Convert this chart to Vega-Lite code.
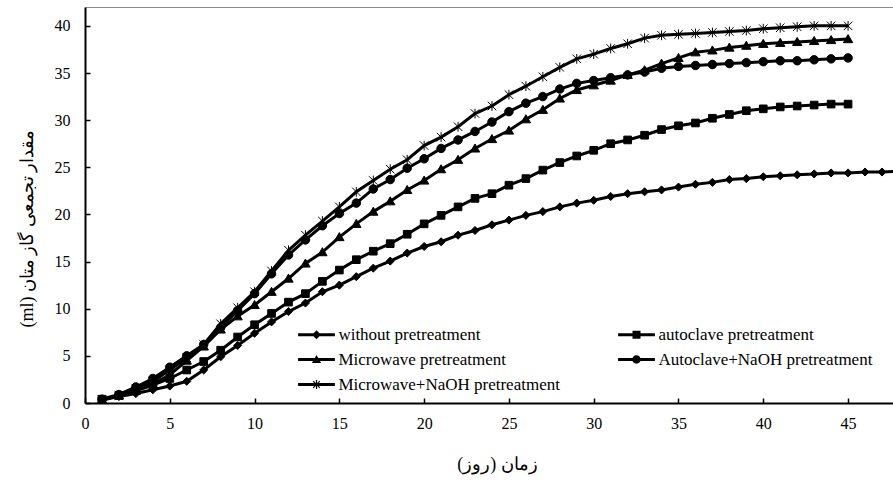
{
  "$schema": "https://vega.github.io/schema/vega-lite/v6.json",
  "width": 808,
  "height": 396,
  "autosize": {"type": "none"},
  "padding": {"left": 85, "top": 7, "right": 0, "bottom": 79},
  "background": "white",
  "config": {"view": {"stroke": null}, "font": "Liberation Serif"},
  "data": {"values": [
    {"day": 1, "without pretreatment": 0.3, "autoclave pretreatment": 0.4, "Microwave pretreatment": 0.35, "Autoclave+NaOH pretreatment": 0.4, "Microwave+NaOH pretreatment": 0.35},
    {"day": 2, "without pretreatment": 0.7, "autoclave pretreatment": 0.8, "Microwave pretreatment": 0.8, "Autoclave+NaOH pretreatment": 0.9, "Microwave+NaOH pretreatment": 0.8},
    {"day": 3, "without pretreatment": 1.0, "autoclave pretreatment": 1.3, "Microwave pretreatment": 1.3, "Autoclave+NaOH pretreatment": 1.7, "Microwave+NaOH pretreatment": 1.5},
    {"day": 4, "without pretreatment": 1.4, "autoclave pretreatment": 1.9, "Microwave pretreatment": 2.0, "Autoclave+NaOH pretreatment": 2.6, "Microwave+NaOH pretreatment": 2.3},
    {"day": 5, "without pretreatment": 1.8, "autoclave pretreatment": 2.6, "Microwave pretreatment": 3.0, "Autoclave+NaOH pretreatment": 3.8, "Microwave+NaOH pretreatment": 3.5},
    {"day": 6, "without pretreatment": 2.3, "autoclave pretreatment": 3.5, "Microwave pretreatment": 4.5, "Autoclave+NaOH pretreatment": 5.0, "Microwave+NaOH pretreatment": 4.8},
    {"day": 7, "without pretreatment": 3.5, "autoclave pretreatment": 4.4, "Microwave pretreatment": 6.0, "Autoclave+NaOH pretreatment": 6.2, "Microwave+NaOH pretreatment": 6.2},
    {"day": 8, "without pretreatment": 4.9, "autoclave pretreatment": 5.6, "Microwave pretreatment": 7.8, "Autoclave+NaOH pretreatment": 8.0, "Microwave+NaOH pretreatment": 8.4},
    {"day": 9, "without pretreatment": 6.1, "autoclave pretreatment": 7.0, "Microwave pretreatment": 9.2, "Autoclave+NaOH pretreatment": 9.8, "Microwave+NaOH pretreatment": 10.1},
    {"day": 10, "without pretreatment": 7.4, "autoclave pretreatment": 8.3, "Microwave pretreatment": 10.4, "Autoclave+NaOH pretreatment": 11.6, "Microwave+NaOH pretreatment": 11.8},
    {"day": 11, "without pretreatment": 8.6, "autoclave pretreatment": 9.5, "Microwave pretreatment": 11.8, "Autoclave+NaOH pretreatment": 13.7, "Microwave+NaOH pretreatment": 14.0},
    {"day": 12, "without pretreatment": 9.7, "autoclave pretreatment": 10.7, "Microwave pretreatment": 13.2, "Autoclave+NaOH pretreatment": 15.7, "Microwave+NaOH pretreatment": 16.2},
    {"day": 13, "without pretreatment": 10.6, "autoclave pretreatment": 11.6, "Microwave pretreatment": 14.8, "Autoclave+NaOH pretreatment": 17.3, "Microwave+NaOH pretreatment": 17.8},
    {"day": 14, "without pretreatment": 11.8, "autoclave pretreatment": 12.9, "Microwave pretreatment": 16.0, "Autoclave+NaOH pretreatment": 18.8, "Microwave+NaOH pretreatment": 19.3},
    {"day": 15, "without pretreatment": 12.5, "autoclave pretreatment": 14.1, "Microwave pretreatment": 17.6, "Autoclave+NaOH pretreatment": 20.1, "Microwave+NaOH pretreatment": 20.8},
    {"day": 16, "without pretreatment": 13.4, "autoclave pretreatment": 15.2, "Microwave pretreatment": 19.0, "Autoclave+NaOH pretreatment": 21.2, "Microwave+NaOH pretreatment": 22.4},
    {"day": 17, "without pretreatment": 14.3, "autoclave pretreatment": 16.1, "Microwave pretreatment": 20.3, "Autoclave+NaOH pretreatment": 22.7, "Microwave+NaOH pretreatment": 23.6},
    {"day": 18, "without pretreatment": 15.05, "autoclave pretreatment": 16.9, "Microwave pretreatment": 21.4, "Autoclave+NaOH pretreatment": 23.7, "Microwave+NaOH pretreatment": 24.8},
    {"day": 19, "without pretreatment": 15.9, "autoclave pretreatment": 17.9, "Microwave pretreatment": 22.6, "Autoclave+NaOH pretreatment": 24.9, "Microwave+NaOH pretreatment": 25.8},
    {"day": 20, "without pretreatment": 16.6, "autoclave pretreatment": 19.0, "Microwave pretreatment": 23.6, "Autoclave+NaOH pretreatment": 25.9, "Microwave+NaOH pretreatment": 27.3},
    {"day": 21, "without pretreatment": 17.1, "autoclave pretreatment": 19.9, "Microwave pretreatment": 24.8, "Autoclave+NaOH pretreatment": 27.0, "Microwave+NaOH pretreatment": 28.2},
    {"day": 22, "without pretreatment": 17.8, "autoclave pretreatment": 20.8, "Microwave pretreatment": 25.8, "Autoclave+NaOH pretreatment": 27.9, "Microwave+NaOH pretreatment": 29.3},
    {"day": 23, "without pretreatment": 18.3, "autoclave pretreatment": 21.7, "Microwave pretreatment": 27.0, "Autoclave+NaOH pretreatment": 28.8, "Microwave+NaOH pretreatment": 30.7},
    {"day": 24, "without pretreatment": 18.9, "autoclave pretreatment": 22.2, "Microwave pretreatment": 28.0, "Autoclave+NaOH pretreatment": 29.8, "Microwave+NaOH pretreatment": 31.5},
    {"day": 25, "without pretreatment": 19.4, "autoclave pretreatment": 23.1, "Microwave pretreatment": 28.9, "Autoclave+NaOH pretreatment": 30.9, "Microwave+NaOH pretreatment": 32.7},
    {"day": 26, "without pretreatment": 19.9, "autoclave pretreatment": 23.8, "Microwave pretreatment": 30.1, "Autoclave+NaOH pretreatment": 31.8, "Microwave+NaOH pretreatment": 33.6},
    {"day": 27, "without pretreatment": 20.3, "autoclave pretreatment": 24.7, "Microwave pretreatment": 31.1, "Autoclave+NaOH pretreatment": 32.5, "Microwave+NaOH pretreatment": 34.6},
    {"day": 28, "without pretreatment": 20.8, "autoclave pretreatment": 25.5, "Microwave pretreatment": 32.3, "Autoclave+NaOH pretreatment": 33.3, "Microwave+NaOH pretreatment": 35.6},
    {"day": 29, "without pretreatment": 21.2, "autoclave pretreatment": 26.2, "Microwave pretreatment": 33.2, "Autoclave+NaOH pretreatment": 33.9, "Microwave+NaOH pretreatment": 36.5},
    {"day": 30, "without pretreatment": 21.5, "autoclave pretreatment": 26.8, "Microwave pretreatment": 33.7, "Autoclave+NaOH pretreatment": 34.2, "Microwave+NaOH pretreatment": 37.0},
    {"day": 31, "without pretreatment": 21.9, "autoclave pretreatment": 27.5, "Microwave pretreatment": 34.2, "Autoclave+NaOH pretreatment": 34.5, "Microwave+NaOH pretreatment": 37.6},
    {"day": 32, "without pretreatment": 22.2, "autoclave pretreatment": 27.9, "Microwave pretreatment": 34.8, "Autoclave+NaOH pretreatment": 34.8, "Microwave+NaOH pretreatment": 38.1},
    {"day": 33, "without pretreatment": 22.4, "autoclave pretreatment": 28.4, "Microwave pretreatment": 35.3, "Autoclave+NaOH pretreatment": 35.1, "Microwave+NaOH pretreatment": 38.7},
    {"day": 34, "without pretreatment": 22.6, "autoclave pretreatment": 29.0, "Microwave pretreatment": 36.0, "Autoclave+NaOH pretreatment": 35.5, "Microwave+NaOH pretreatment": 39.0},
    {"day": 35, "without pretreatment": 22.9, "autoclave pretreatment": 29.4, "Microwave pretreatment": 36.6, "Autoclave+NaOH pretreatment": 35.7, "Microwave+NaOH pretreatment": 39.1},
    {"day": 36, "without pretreatment": 23.2, "autoclave pretreatment": 29.7, "Microwave pretreatment": 37.2, "Autoclave+NaOH pretreatment": 35.8, "Microwave+NaOH pretreatment": 39.2},
    {"day": 37, "without pretreatment": 23.4, "autoclave pretreatment": 30.2, "Microwave pretreatment": 37.4, "Autoclave+NaOH pretreatment": 35.9, "Microwave+NaOH pretreatment": 39.3},
    {"day": 38, "without pretreatment": 23.7, "autoclave pretreatment": 30.6, "Microwave pretreatment": 37.7, "Autoclave+NaOH pretreatment": 36.0, "Microwave+NaOH pretreatment": 39.4},
    {"day": 39, "without pretreatment": 23.8, "autoclave pretreatment": 31.0, "Microwave pretreatment": 37.9, "Autoclave+NaOH pretreatment": 36.1, "Microwave+NaOH pretreatment": 39.5},
    {"day": 40, "without pretreatment": 24.0, "autoclave pretreatment": 31.2, "Microwave pretreatment": 38.1, "Autoclave+NaOH pretreatment": 36.2, "Microwave+NaOH pretreatment": 39.7},
    {"day": 41, "without pretreatment": 24.1, "autoclave pretreatment": 31.4, "Microwave pretreatment": 38.2, "Autoclave+NaOH pretreatment": 36.3, "Microwave+NaOH pretreatment": 39.8},
    {"day": 42, "without pretreatment": 24.2, "autoclave pretreatment": 31.5, "Microwave pretreatment": 38.3, "Autoclave+NaOH pretreatment": 36.3, "Microwave+NaOH pretreatment": 39.9},
    {"day": 43, "without pretreatment": 24.3, "autoclave pretreatment": 31.6, "Microwave pretreatment": 38.4, "Autoclave+NaOH pretreatment": 36.4, "Microwave+NaOH pretreatment": 40.0},
    {"day": 44, "without pretreatment": 24.4, "autoclave pretreatment": 31.7, "Microwave pretreatment": 38.5, "Autoclave+NaOH pretreatment": 36.5, "Microwave+NaOH pretreatment": 40.0},
    {"day": 45, "without pretreatment": 24.4, "autoclave pretreatment": 31.7, "Microwave pretreatment": 38.6, "Autoclave+NaOH pretreatment": 36.6, "Microwave+NaOH pretreatment": 40.0},
    {"day": 46, "without pretreatment": 24.5},
    {"day": 47, "without pretreatment": 24.5},
    {"day": 48, "without pretreatment": 24.6}
  ]},
  "transform": [
    {"fold": ["without pretreatment", "autoclave pretreatment", "Microwave pretreatment", "Autoclave+NaOH pretreatment", "Microwave+NaOH pretreatment"], "as": ["series", "value"]},
    {"filter": "isValid(datum.value)"}
  ],
  "layer": [
    {
      "mark": {"type": "line", "color": "black", "strokeWidth": 3, "clip": true},
      "encoding": {
        "x": {
          "field": "day", "type": "quantitative",
          "scale": {"domain": [0, 47.65], "nice": false, "zero": false},
          "axis": {
            "values": [0, 5, 10, 15, 20, 25, 30, 35, 40, 45],
            "title": "زمان (روز)",
            "grid": false, "domainColor": "black", "domainWidth": 2,
            "tickColor": "black", "tickWidth": 1.5, "tickSize": -5,
            "labelPadding": 17, "labelFont": "Liberation Serif", "labelFontSize": 16, "labelColor": "black",
            "labelFlush": false, "labelOverlap": false,
            "titleFont": "Liberation Serif", "titleFontSize": 18, "titleFontWeight": "normal", "titleColor": "black", "titlePadding": 24, "titleX": 412
          }
        },
        "y": {
          "field": "value", "type": "quantitative",
          "scale": {"domain": [0, 42], "nice": false},
          "axis": {
            "values": [0, 5, 10, 15, 20, 25, 30, 35, 40],
            "title": "(ml) مقدار تجمعی گاز متان",
            "grid": false, "domainColor": "black", "domainWidth": 2,
            "tickColor": "black", "tickWidth": 1.5, "tickSize": -5,
            "labelPadding": 20, "labelFont": "Liberation Serif", "labelFontSize": 16, "labelColor": "black",
            "labelFlush": false, "labelOverlap": false,
            "titleFont": "Liberation Serif", "titleFontSize": 18, "titleFontWeight": "normal", "titleColor": "black", "titlePadding": 18, "titleY": 221
          }
        },
        "detail": {"field": "series", "type": "nominal"}
      }
    },
    {
      "mark": {"type": "point", "filled": true, "fill": "black", "opacity": 0, "size": 64, "clip": true},
      "encoding": {
        "x": {"field": "day", "type": "quantitative", "axis": null},
        "y": {"field": "value", "type": "quantitative"},
        "shape": {
          "field": "series", "type": "nominal",
          "scale": {
            "domain": ["without pretreatment", "autoclave pretreatment", "Microwave pretreatment", "Autoclave+NaOH pretreatment", "Microwave+NaOH pretreatment"],
            "range": [
              "M-4.6,-0.36H4.6V0.36H-4.6ZM0,-1.1L1.1,0L0,1.1L-1.1,0Z",
              "M-4.6,-0.36H4.6V0.36H-4.6ZM-1,-1H1V1H-1Z",
              "M-4.6,-0.36H4.6V0.36H-4.6ZM0,-1.1L1.15,0.9H-1.15Z",
              "M-4.6,-0.36H4.6V0.36H-4.6ZM-1.05,0A1.05,1.05,0,1,1,1.05,0A1.05,1.05,0,1,1,-1.05,0Z",
              "M-4.6,-0.36H4.6V0.36H-4.6ZM-0.15,-1.15H0.15V1.15H-0.15ZM-0.72,-0.93L0.93,0.72L0.72,0.93L-0.93,-0.72ZM-0.93,0.72L0.72,-0.93L0.93,-0.72L-0.72,0.93Z"
            ]
          },
          "legend": {
            "title": null, "orient": "none", "legendX": 223, "legendY": 319, "direction": "horizontal",
            "columns": 2, "columnPadding": 58, "rowPadding": 7, "padding": 0,
            "labelFont": "Liberation Serif", "labelFontSize": 17, "labelColor": "black", "labelOffset": 13.4, "labelLimit": 500,
            "symbolSize": 64, "symbolStrokeWidth": 0, "symbolFillColor": "black", "symbolStrokeColor": "black", "symbolOpacity": 1
          }
        }
      }
    },
    {
      "mark": {"type": "point", "filled": true, "fill": "black", "stroke": "black", "strokeWidth": 1, "size": 72, "opacity": 1, "clip": true},
      "encoding": {
        "x": {
          "field": "day", "type": "quantitative",
          "axis": {"orient": "top", "domainColor": "#8c8c8c", "domainWidth": 1, "labels": false, "ticks": false, "title": null, "grid": false}
        },
        "y": {"field": "value", "type": "quantitative"},
        "shape": {
          "field": "series", "type": "nominal",
          "scale": {
            "domain": ["without pretreatment", "autoclave pretreatment", "Microwave pretreatment", "Autoclave+NaOH pretreatment", "Microwave+NaOH pretreatment"],
            "range": ["M0,-0.95L0.95,0L0,0.95L-0.95,0Z", "M-0.9,-0.9H0.9V0.9H-0.9Z", "M0,-1.05L1.1,0.85H-1.1Z", "circle", "M-1,-1L1,1M-1,1L1,-1M0,-1.15V1.15"]
          },
          "legend": null
        }
      }
    }
  ],
  "resolve": {"axis": {"x": "independent"}, "scale": {"shape": "independent"}, "legend": {"shape": "independent"}}
}
